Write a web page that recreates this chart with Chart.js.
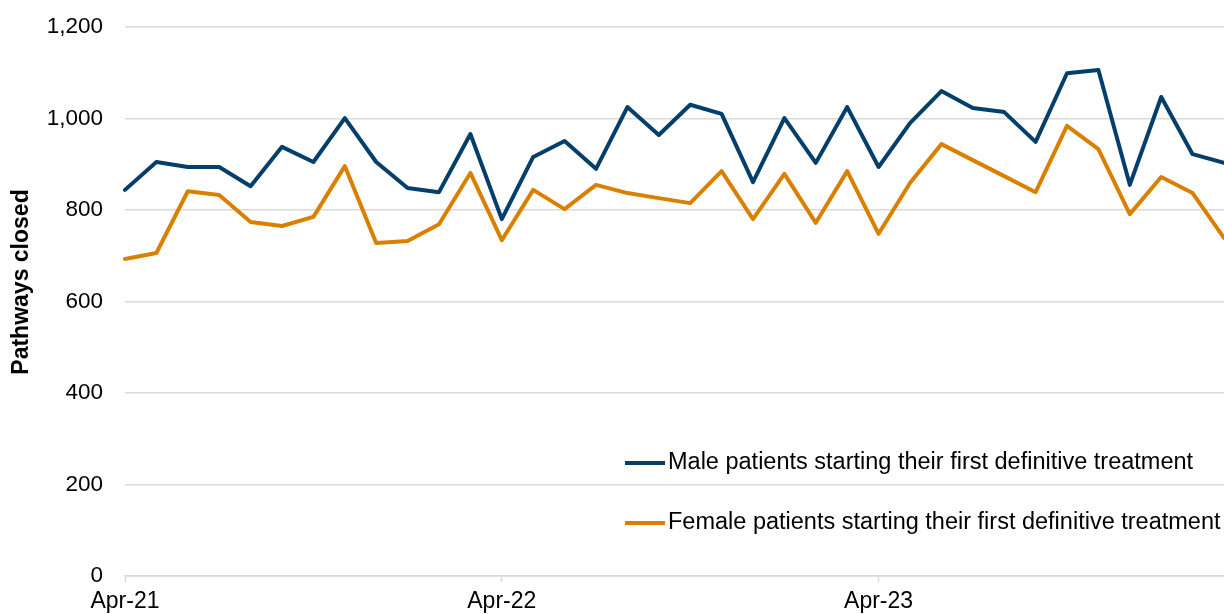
<!DOCTYPE html>
<html>
<head>
<meta charset="utf-8">
<script src="https://cdn.jsdelivr.net/npm/chart.js@4/dist/chart.umd.min.js"></script>
<style>
  html, body { margin: 0; padding: 0; background: #fff; }
  #wrap { width: 1224px; height: 614px; position: relative; }
</style>
</head>
<body>
<div id="wrap"><canvas id="chart"></canvas></div>
<script>
  /* ── Data ────────────────────────────────────────────────── */
  const months = [
    'Apr-21', 'May-21', 'Jun-21', 'Jul-21', 'Aug-21', 'Sep-21', 'Oct-21', 'Nov-21', 'Dec-21', 'Jan-22', 'Feb-22', 'Mar-22',
    'Apr-22', 'May-22', 'Jun-22', 'Jul-22', 'Aug-22', 'Sep-22', 'Oct-22', 'Nov-22', 'Dec-22', 'Jan-23', 'Feb-23', 'Mar-23',
    'Apr-23', 'May-23', 'Jun-23', 'Jul-23', 'Aug-23', 'Sep-23', 'Oct-23', 'Nov-23', 'Dec-23', 'Jan-24', 'Feb-24', 'Mar-24'
  ];
  const maleValues = [
    844, 905, 894, 894, 852, 938, 905, 1001, 905, 848, 839, 966,
    780, 916, 951, 890, 1025, 964, 1030, 1010, 861, 1001, 903, 1025,
    894, 990, 1060, 1023, 1014, 949, 1099, 1106, 855, 1047, 922, 903
  ];
  const femaleValues = [
    693, 706, 841, 833, 774, 765, 785, 896, 728, 732, 769, 881,
    734, 844, 802, 855, 837, 826, 815, 885, 780, 879, 772, 885,
    748, 859, 944, 909, 874, 839, 984, 933, 791, 872, 837, 739
  ];
  const yTicks = [0, 200, 400, 600, 800, 1000, 1200];
  const yTitle = 'Pathways closed';

  const NAVY = '#033F6A';
  const ORANGE = '#D98000';
  const GRID = '#d9d9d9';
  const FONT = "'Liberation Sans', Arial, sans-serif";

  /* ── Legend inside the plot area + axis title ────────────── */
  const extras = {
    id: 'extras',
    afterDraw(chart) {
      const ctx = chart.ctx;
      const x0 = 625, rows = [463, 523];
      ctx.save();
      ctx.font = '23.5px ' + FONT;
      ctx.textBaseline = 'middle';
      chart.data.datasets.forEach((ds, i) => {
        const y = rows[i];
        ctx.strokeStyle = ds.borderColor;
        ctx.lineWidth = 4;
        ctx.beginPath();
        ctx.moveTo(x0, y);
        ctx.lineTo(x0 + 40, y);
        ctx.stroke();
        ctx.fillStyle = '#000';
        ctx.fillText(ds.label, x0 + 43, y);
      });

      // rotated y-axis title
      ctx.translate(22, 282);
      ctx.rotate(-Math.PI / 2);
      ctx.font = 'bold 23px ' + FONT;
      ctx.textAlign = 'center';
      ctx.fillText(yTitle, 0, 0);
      ctx.restore();
    }
  };

  new Chart(document.getElementById('chart'), {
    type: 'line',
    data: {
      labels: months,
      datasets: [
        { label: 'Male patients starting their first definitive treatment', data: maleValues, borderColor: NAVY, backgroundColor: NAVY },
        { label: 'Female patients starting their first definitive treatment', data: femaleValues, borderColor: ORANGE, backgroundColor: ORANGE }
      ]
    },
    options: {
      responsive: true,
      maintainAspectRatio: false,
      animation: false,
      layout: { padding: { top: 27, right: 0, left: 0, bottom: 0 } },
      elements: {
        point: { radius: 0 },
        line: { borderWidth: 4, tension: 0, borderJoinStyle: 'round', borderCapStyle: 'round' }
      },
      plugins: {
        legend: { display: false },
        tooltip: { enabled: false }
      },
      scales: {
        x: {
          grid: {
            display: true,
            drawOnChartArea: false,
            drawTicks: true,
            tickLength: 6,
            tickWidth: 1.5,
            tickColor: c => (c.index % 12 === 0 ? GRID : 'rgba(0,0,0,0)')
          },
          border: { color: GRID, width: 1.5 },
          ticks: {
            autoSkip: false,
            maxRotation: 0,
            color: '#000',
            font: { family: FONT, size: 23 },
            padding: 6,
            callback: (v, i) => (i % 12 === 0 ? months[i] : '')
          },
          afterFit: s => { s.height = 38; s.paddingLeft = 0; s.paddingRight = 0; }
        },
        y: {
          min: 0,
          max: 1200,
          afterBuildTicks: s => { s.ticks = yTicks.map(v => ({ value: v })); },
          grid: { color: GRID, lineWidth: 1.5, drawTicks: false },
          border: { display: false },
          ticks: {
            color: '#000',
            padding: 22,
            font: { family: FONT, size: 22.5 },
            callback: v => v.toLocaleString('en-GB')
          },
          afterFit: s => { s.width = 125; s.paddingTop = 0; s.paddingBottom = 0; }
        }
      }
    },
    plugins: [extras]
  });
</script>
</body>
</html>
